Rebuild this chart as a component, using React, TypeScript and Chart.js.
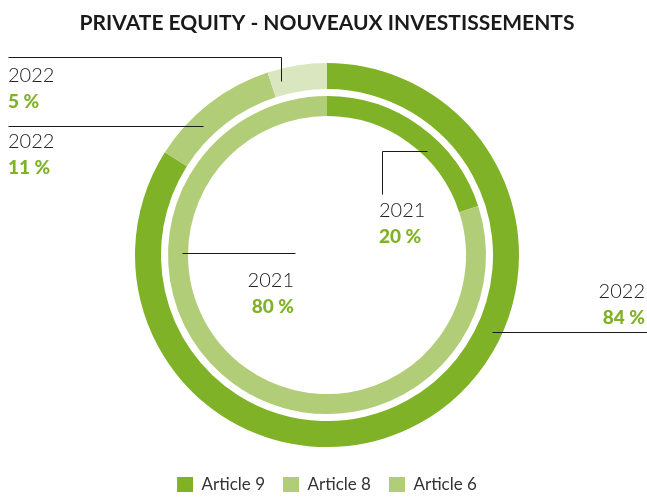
import React, { useEffect, useRef } from "react";
import { Chart, registerables } from "chart.js";

Chart.register(...registerables);

const TITLE = "PRIVATE EQUITY - NOUVEAUX INVESTISSEMENTS";
const categories = ["Article 9", "Article 8", "Article 6"];
const years = ["2022", "2021"];
const values2022 = [84, 11, 5];
const values2021 = [20, 80, 0];
const segmentColors = ["#80b227", "#b2cd78", "#d9e6bf"];
const legendColors = ["#80b227", "#b2cd78", "#b2cd78"];

const DARK = "#80b227";
const FONT = "Lato, 'Open Sans', sans-serif";

const fmtPct = (v: number) => `${v} %`;

const annotationPlugin = {
  id: "leaderLabels",
  afterDatasetsDraw(chart: any) {
    const ctx = chart.ctx;
    const W = chart.width;
    const anchor = (ds: number, idx: number, frac: number, t: number) => {
      const arc: any = chart.getDatasetMeta(ds).data[idx];
      const p = arc.getProps(["x", "y", "startAngle", "endAngle", "innerRadius", "outerRadius"], true);
      const a = p.startAngle + frac * (p.endAngle - p.startAngle);
      const r = p.innerRadius + t * (p.outerRadius - p.innerRadius);
      return { x: p.x + Math.cos(a) * r, y: p.y + Math.sin(a) * r };
    };
    const line = (pts: { x: number; y: number }[]) => {
      ctx.beginPath();
      pts.forEach((pt, i) => {
        const x = Math.round(pt.x) + 0.5;
        const y = Math.round(pt.y) + 0.5;
        if (i === 0) ctx.moveTo(x, y);
        else ctx.lineTo(x, y);
      });
      ctx.stroke();
    };
    const text = (year: string, pct: string, x: number, yBase: number, align: CanvasTextAlign) => {
      ctx.textAlign = align;
      ctx.textBaseline = "alphabetic";
      ctx.fillStyle = "#222";
      ctx.font = `300 20px ${FONT}`;
      ctx.fillText(year, x, yBase);
      ctx.fillStyle = DARK;
      ctx.font = `900 19px ${FONT}`;
      ctx.fillText(pct, x, yBase + 26);
    };
    ctx.save();
    ctx.strokeStyle = "#1a1a1a";
    ctx.lineWidth = 1;

    // 2022 - Article 6
    const a1 = anchor(0, 2, 0.18, 0.55);
    line([a1, { x: a1.x, y: 57 }, { x: 8, y: 57 }]);
    text(years[0], fmtPct(values2022[2]), 8, 82, "left");

    // 2022 - Article 8
    const a2 = anchor(0, 1, 0.35, 0.5);
    line([a2, { x: 8, y: a2.y }]);
    text(years[0], fmtPct(values2022[1]), 8, 148, "left");

    // 2021 - Article 9
    const a3 = anchor(2, 0, 0.61, 0.25);
    line([a3, { x: 382, y: a3.y }, { x: 382, y: 194 }]);
    text(years[1], fmtPct(values2021[0]), 379, 217, "left");

    // 2021 - Article 8
    const a4 = anchor(2, 1, 0.69, 0.3);
    line([a4, { x: 295, y: a4.y }]);
    text(years[1], fmtPct(values2021[1]), 294, 287, "right");

    // 2022 - Article 9
    const a5 = anchor(0, 0, 0.38, 0.6);
    line([a5, { x: W, y: a5.y }]);
    text(years[0], fmtPct(values2022[0]), 645, 298, "right");

    ctx.restore();
  },
};

export default function App() {
  const ref = useRef<HTMLCanvasElement>(null);
  useEffect(() => {
    if (!ref.current) return;
    const chart = new Chart(ref.current, {
      type: "doughnut",
      data: {
        labels: categories,
        datasets: [
          { label: years[0], data: values2022, backgroundColor: segmentColors, weight: 26 } as any,
          { label: "gap", data: [1], backgroundColor: ["rgba(0,0,0,0)"], weight: 7 } as any,
          { label: years[1], data: values2021, backgroundColor: segmentColors, weight: 20 } as any,
        ],
      },
      options: {
        animation: false,
        responsive: true,
        maintainAspectRatio: false,
        cutout: "72.4%",
        radius: 192,
        borderWidth: 0,
        layout: { padding: { left: 7, right: 0, top: 5, bottom: -6 } },
        plugins: {
          tooltip: { enabled: false },
          title: {
            display: true,
            text: TITLE,
            color: "#1a1a1a",
            font: { family: FONT, weight: "bold", size: 21 },
            padding: { top: 6, bottom: 16 },
          },
          legend: {
            position: "bottom",
            labels: {
              boxWidth: 16,
              boxHeight: 15,
              padding: 18,
              color: "#333",
              font: { family: FONT, size: 17 },
              generateLabels: () =>
                categories.map((c, i) => ({
                  text: c,
                  fillStyle: legendColors[i],
                  strokeStyle: legendColors[i],
                  lineWidth: 0,
                  hidden: false,
                  index: i,
                  fontColor: "#333",
                })),
            },
          },
        },
      } as any,
      plugins: [annotationPlugin],
    });
    return () => chart.destroy();
  }, []);
  return (
    <div style={{ position: "fixed", left: 0, top: 0, width: 647, height: 497, background: "#fff" }}>
      <canvas ref={ref} />
    </div>
  );
}
